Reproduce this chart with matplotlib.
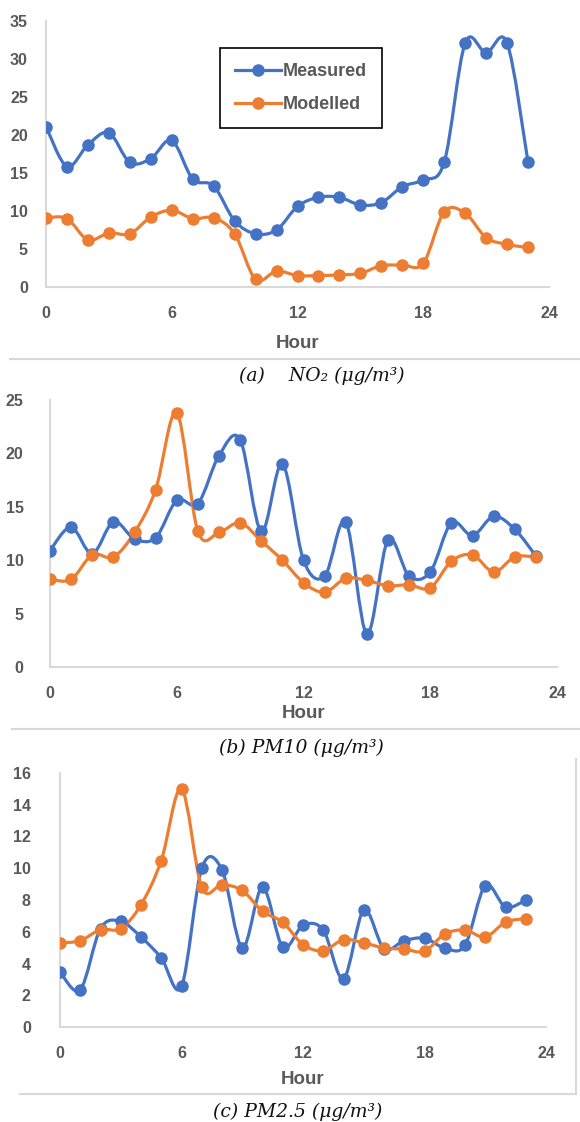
import numpy as np
import matplotlib
matplotlib.use("Agg")
import matplotlib.pyplot as plt
from matplotlib.path import Path
from matplotlib.patches import PathPatch
from matplotlib.lines import Line2D

# hours of the day
hours = list(range(24))

# NO2 (ug/m3)
no2_measured = [21.1, 15.85, 18.7, 20.3, 16.4, 16.9, 19.3, 14.2, 13.3, 8.7, 7.0, 7.5,
                10.6, 11.8, 11.8, 10.8, 11.1, 13.2, 14.1, 16.4, 32.1, 30.8, 32.1, 16.4]
no2_modelled = [9.1, 9.0, 6.2, 7.1, 7.0, 9.2, 10.1, 9.0, 9.1, 7.0, 1.0, 2.1,
                1.5, 1.5, 1.6, 1.8, 2.8, 2.9, 3.1, 9.9, 9.7, 6.5, 5.6, 5.2]

# PM10 (ug/m3)
pm10_measured = [10.9, 13.1, 10.6, 13.6, 12.0, 12.1, 15.6, 15.3, 19.8, 21.3, 12.7, 19.0,
                 10.0, 8.5, 13.6, 3.1, 11.9, 8.5, 8.9, 13.5, 12.3, 14.1, 12.9, 10.4]
pm10_modelled = [8.2, 8.2, 10.5, 10.3, 12.6, 16.6, 23.8, 12.7, 12.6, 13.5, 11.8, 10.0,
                 7.9, 7.0, 8.3, 8.1, 7.6, 7.7, 7.4, 9.9, 10.5, 8.9, 10.3, 10.3]

# PM2.5 (ug/m3)
pm25_measured = [3.47, 2.35, 6.2, 6.65, 5.67, 4.35, 2.56, 10.0, 9.9, 5.0, 8.8, 5.04,
                 6.4, 6.1, 3.05, 7.35, 4.94, 5.44, 5.59, 4.98, 5.15, 8.9, 7.56, 7.98]
pm25_modelled = [5.3, 5.44, 6.13, 6.2, 7.7, 10.48, 15.0, 8.8, 8.97, 8.6, 7.29, 6.6,
                 5.19, 4.81, 5.5, 5.3, 4.98, 4.9, 4.77, 5.86, 6.1, 5.67, 6.6, 6.83]

x_ticks = [0, 6, 12, 18, 24]

BLUE = "#4472C4"
ORANGE = "#ED7D31"
GRAY_TXT = "#595959"
GRAY_LINE = "#D9D9D9"

plt.rcParams['font.family'] = ['Liberation Sans', 'DejaVu Sans']
plt.rcParams['font.weight'] = 'bold'

W, H = 580, 1122
fig = plt.figure(figsize=(W / 100, H / 100), dpi=100)


def px_axes(x0, x1, y_top, y_bot):
    # axes rectangle from pixel coordinates of the reference
    return fig.add_axes([x0 / W, 1 - y_bot / H, (x1 - x0) / W, (y_bot - y_top) / H])


def smooth_path(xs, ys):
    # Excel-like smoothed line: cubic bezier through every point
    pts = np.column_stack([xs, ys]).astype(float)
    n = len(pts)
    verts = [pts[0]]
    codes = [Path.MOVETO]
    for i in range(n - 1):
        p0 = pts[i - 1] if i > 0 else pts[i]
        p1 = pts[i]
        p2 = pts[i + 1]
        p3 = pts[i + 2] if i + 2 < n else pts[i + 1]
        c1 = p1 + (p2 - p0) / 6.0
        c2 = p2 - (p3 - p1) / 6.0
        verts += [c1, c2, p2]
        codes += [Path.CURVE4] * 3
    return Path(verts, codes)


def draw_series(ax, ys, color, label):
    ax.add_patch(PathPatch(smooth_path(hours, ys), facecolor="none",
                           edgecolor=color, lw=2.3, capstyle="round", joinstyle="round", zorder=3))
    ax.plot(hours, ys, ls="none", marker="o", ms=8, color=color, zorder=4, label=label)


def style_axes(ax, ymax, ystep, ypad, xpad):
    ax.set_xlim(0, 24)
    ax.set_ylim(0, ymax)
    ax.set_xticks(x_ticks)
    ax.set_yticks(np.arange(0, ymax + 0.1, ystep))
    for s in ("top", "right"):
        ax.spines[s].set_visible(False)
    for s in ("left", "bottom"):
        ax.spines[s].set_color(GRAY_LINE)
        ax.spines[s].set_linewidth(1.5)
    ax.tick_params(length=0, labelsize=11.5, labelcolor=GRAY_TXT)
    ax.tick_params(axis="y", pad=ypad)
    ax.tick_params(axis="x", pad=xpad)
    for lab in ax.get_xticklabels() + ax.get_yticklabels():
        lab.set_fontweight("bold")
    ax.set_facecolor("none")


def hour_label(x, y):
    fig.text(x / W, 1 - y / H, "Hour", ha="center", va="center",
             fontsize=13.5, fontweight="bold", color=GRAY_TXT)


def caption(x, y, s):
    fig.text(x / W, 1 - y / H, s, ha="center", va="center", fontsize=13.5,
             style="italic", fontweight="normal",
             family=["DejaVu Serif", "Liberation Serif"], color="#111111")


def hline(x0, x1, y):
    fig.add_artist(Line2D([x0 / W, x1 / W], [1 - y / H, 1 - y / H],
                          color=GRAY_LINE, lw=1.5, transform=fig.transFigure))


# (a) NO2
ax1 = px_axes(46, 549, 21, 287)
draw_series(ax1, no2_measured, BLUE, "Measured")
draw_series(ax1, no2_modelled, ORANGE, "Modelled")
style_axes(ax1, 35, 5, 13, 14)
handles = [Line2D([], [], color=BLUE, lw=2.3, marker="o", ms=8),
           Line2D([], [], color=ORANGE, lw=2.3, marker="o", ms=8)]
leg = ax1.legend(handles, ["Measured", "Modelled"], loc="upper left",
                 bbox_to_anchor=(0.346, 0.898), frameon=True, fancybox=False,
                 edgecolor="black", framealpha=1, handlelength=2.5, handletextpad=0.1,
                 labelspacing=0.85, borderpad=0.85, borderaxespad=0,
                 prop={"weight": "bold", "size": 13})
leg.get_frame().set_linewidth(1.2)
for t in leg.get_texts():
    t.set_color(GRAY_TXT)
hour_label(298, 344)
hline(10, 580, 359)
caption(322, 376, "(a)    NO\u2082 (\u03bcg/m\u00b3)")

# (b) PM10
ax2 = px_axes(50, 557, 400, 667)
draw_series(ax2, pm10_measured, BLUE, "Measured")
draw_series(ax2, pm10_modelled, ORANGE, "Modelled")
style_axes(ax2, 25, 5, 19, 14)
hour_label(304, 714)
hline(12, 580, 729)
caption(301, 748, "(b) PM10 (\u03bcg/m\u00b3)")

# (c) PM2.5
ax3 = px_axes(60, 546, 773, 1027)
draw_series(ax3, pm25_measured, BLUE, "Measured")
draw_series(ax3, pm25_modelled, ORANGE, "Modelled")
style_axes(ax3, 16, 2, 21, 14)
hour_label(303, 1080)
hline(20, 576, 1094)
fig.add_artist(Line2D([576 / W, 576 / W], [1 - 759 / H, 1 - 1094 / H],
                      color=GRAY_LINE, lw=1.5, transform=fig.transFigure))
caption(298, 1112, "(c) PM2.5 (\u03bcg/m\u00b3)")

fig.savefig("out.png", dpi=100, facecolor="white")
